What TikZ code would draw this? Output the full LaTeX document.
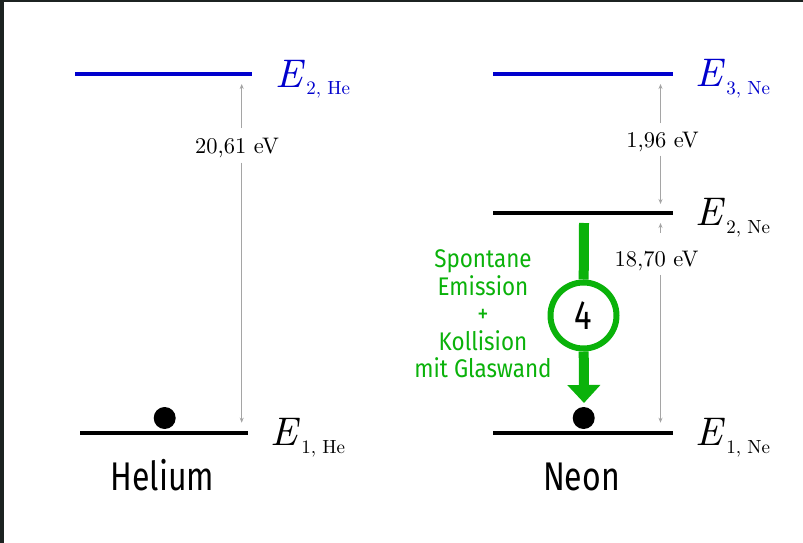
\documentclass[tikz,border=0pt]{standalone}
\usepackage{fontspec}
\usetikzlibrary{arrows.meta}
\newfontfamily\condfont[FakeStretch=0.8]{Fira Sans}
\newfontfamily\greenfont[FakeStretch=0.88]{Fira Sans}
\newfontfamily\lmten{lmroman10-regular.otf}[ItalicFont=lmroman10-italic.otf]
\definecolor{lvlblue}{RGB}{0,0,205}
\definecolor{emgreen}{RGB}{10,178,10}
\definecolor{dimgray}{RGB}{165,165,165}
\definecolor{framedark}{RGB}{28,35,33}
\newcommand{\Elab}[1]{{\lmten\fontsize{40}{40}\selectfont\itshape E}\kern4pt\raisebox{-8pt}{\lmten\fontsize{19}{19}\selectfont #1}}
\tikzset{
  lvl/.style={line width=4pt},
  elab/.style={anchor=base west, inner sep=0pt},
  dimarr/.style={draw=dimgray, line width=0.9pt, -{Stealth[length=5pt,width=4pt]}},
  evlab/.style={inner sep=0pt, text height=25pt, text depth=9pt, font=\lmten\fontsize{22.5}{22.5}\selectfont},
  dot/.style={circle, fill=black, minimum size=22pt, inner sep=0pt},
  atomname/.style={anchor=base, inner sep=0pt, font=\condfont\fontsize{40}{40}\selectfont},
}
\begin{document}
\begin{tikzpicture}[x=1pt,y=-1pt]
\useasboundingbox (0,0) rectangle (803,543);
\fill[white] (0,0) rectangle (803,543);
\fill[framedark] (0,0) rectangle (803,2);
\fill[framedark] (0,0) rectangle (4,543);

% ---- Helium ----
\draw[lvl, lvlblue] (75,74) -- (252,74);
\draw[lvl, black] (80,433) -- (248,433);
\node[elab, text=lvlblue] (e2he) at (275,87) {\Elab{2, He}};
\node[elab] (e1he) at (270,445) {\Elab{1, He}};
\coordinate (hetop) at (241.7,84);
\coordinate (hebot) at (241.7,422.7);
\node[evlab, anchor=base] (evhe) at (237,153.3) {20,61 eV};
\draw[dimarr] (evhe.north -| hetop) -- (hetop);
\draw[dimarr] (evhe.south -| hebot) -- (hebot);
\node[dot] (dhe) at (164.7,418) {};
\node[atomname] (helium) at (162.5,490) {Helium};

% ---- Neon ----
\draw[lvl, lvlblue] (493,74) -- (672.5,74);
\draw[lvl, black] (493,213.3) -- (672.5,213.3);
\draw[lvl, black] (493,433) -- (672.5,433);
\node[elab, text=lvlblue] (e3ne) at (695,86.7) {\Elab{3, Ne}};
\node[elab] (e2ne) at (695,225.7) {\Elab{2, Ne}};
\node[elab] (e1ne) at (695,445) {\Elab{1, Ne}};

\coordinate (ne3) at (660.5,84);
\coordinate (ne2a) at (660.5,204);
\coordinate (ne2b) at (660.5,223);
\coordinate (ne1) at (660.5,422.7);
\node[evlab, anchor=base, text height=24pt, text depth=8pt] (evne32) at (662.5,147.3) {1,96 eV};
\draw[dimarr] (evne32.north -| ne3) -- (ne3);
\draw[dimarr] (evne32.south -| ne2a) -- (ne2a);
\node[evlab, anchor=base, text height=34pt, text depth=8pt] (evne21) at (656.5,266.7) {18,70 eV};
\draw[dimarr] (evne21.north -| ne2b) -- (ne2b);
\draw[dimarr] (evne21.south -| ne1) -- (ne1);

\node[dot] (dne) at (583.7,418) {};
\node[atomname] (neon) at (581.5,490) {Neon};

% ---- green transition ----
\coordinate (gstart) at (584,223);
\coordinate (gtip) at (584,403);
\node[circle, draw=emgreen, line width=6pt, fill=white, minimum size=66pt, inner sep=0pt]
  (c4) at (583.5,315.5) {\condfont\fontsize{41}{41}\selectfont 4};
\draw[emgreen, line width=10pt] (gstart) -- (c4);
\draw[emgreen, line width=10pt, -{Triangle[length=18pt,width=32pt]}] (c4) -- (gtip);
\node[text=emgreen, align=center, inner sep=0pt, font=\greenfont\fontsize{25.5}{27.5}\selectfont]
  (emtext) at (483,314) {Spontane\\Emission\\+\\Kollision\\mit Glaswand};
\end{tikzpicture}
\end{document}
